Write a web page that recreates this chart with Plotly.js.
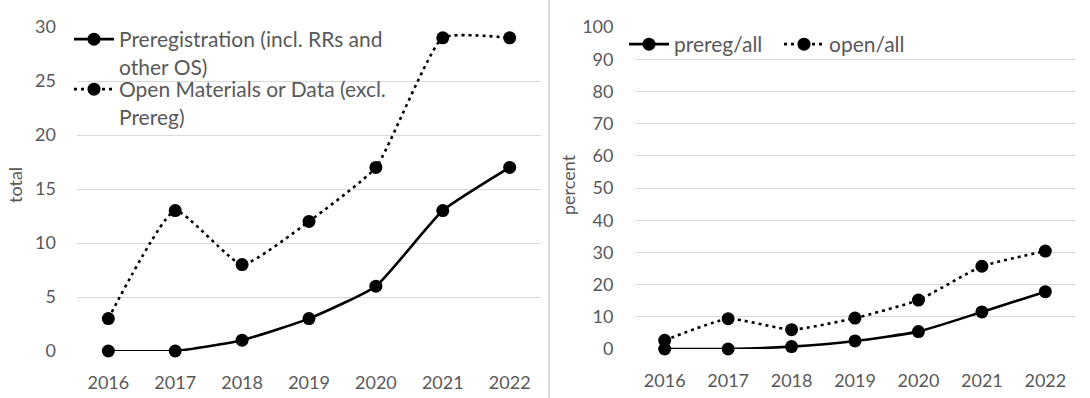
<!DOCTYPE html>
<html><head><meta charset="utf-8">
<script src="https://cdn.plot.ly/plotly-3.0.1.min.js"></script>
<style>html,body{margin:0;padding:0;background:#fff}#chart{width:1090px;height:398px}</style>
</head><body><div id="chart"></div>
<script>
const years = ['2016','2017','2018','2019','2020','2021','2022'];
const preregTotal = [0, 0, 1, 3, 6, 13, 17];
const openTotal = [3, 13, 8, 12, 17, 29, 29];
const preregPct = [0, 0, 0.75, 2.5, 5.4, 11.5, 17.8];
const openPct = [2.7, 9.4, 6.0, 9.6, 15.2, 25.7, 30.4];
const leftNames = ['Preregistration (incl. RRs and<br>other OS)', 'Open Materials or Data (excl.<br>Prereg)'];
const rightNames = ['prereg/all', 'open/all'];

const W = 1090, H = 398;
const txt = '#595959', grid = '#d9d9d9';
const FONT = 'Lato, "Open Sans", sans-serif';
const solid = {color:'#000', width:2.6, shape:'spline', smoothing:0.45};
const dotted = {color:'#000', width:2.6, shape:'spline', smoothing:0.45, dash:'3px,4px'};
const mk = {color:'#000', size:13};

const traces = [
  {x:years, y:preregTotal, name:leftNames[0], type:'scatter', mode:'lines+markers', line:solid, marker:mk, xaxis:'x', yaxis:'y', cliponaxis:false, legend:'legend'},
  {x:years, y:openTotal, name:leftNames[1], type:'scatter', mode:'lines+markers', line:dotted, marker:mk, xaxis:'x', yaxis:'y', cliponaxis:false, legend:'legend3'},
  {x:years, y:preregPct, name:rightNames[0], type:'scatter', mode:'lines+markers', line:solid, marker:mk, xaxis:'x2', yaxis:'y2', cliponaxis:false, legend:'legend2'},
  {x:years, y:openPct, name:rightNames[1], type:'scatter', mode:'lines+markers', line:dotted, marker:mk, xaxis:'x2', yaxis:'y2', cliponaxis:false, legend:'legend2'}
];

const xcommon = {type:'category', showgrid:false, zeroline:false, showline:false, ticks:'', ticklabelstandoff:19, tickfont:{family:FONT, size:18, color:txt}, fixedrange:true};
const ycommon = {showgrid:true, gridcolor:grid, gridwidth:1, zeroline:false, showline:false, ticks:'', ticklabelstandoff:20, tickfont:{family:FONT, size:18, color:txt}, fixedrange:true};
const legFont = {family:FONT, size:21, color:txt};

const layout = {
  width:W, height:H, margin:{l:0,r:0,t:0,b:0}, paper_bgcolor:'#fff', plot_bgcolor:'#fff',
  font:{family:FONT, color:txt},
  xaxis:Object.assign({}, xcommon, {domain:[77/W, 541/W], anchor:'y'}),
  yaxis:Object.assign({}, ycommon, {domain:[1-351/H, 1-27/H], range:[0,30], dtick:5, anchor:'x'}),
  xaxis2:Object.assign({}, xcommon, {domain:[634.5/W, 1075.5/W], anchor:'y2'}),
  yaxis2:Object.assign({}, ycommon, {domain:[1-349/H, 1-27/H], range:[0,100], dtick:10, anchor:'x2'}),
  showlegend:true,
  legend:{x:69/W, y:1-19/H, xanchor:'left', yanchor:'top', orientation:'v', valign:'top', bgcolor:'rgba(0,0,0,0)', font:legFont, itemwidth:40},
  legend3:{x:69/W, y:1-69/H, xanchor:'left', yanchor:'top', orientation:'v', valign:'top', bgcolor:'rgba(0,0,0,0)', font:legFont, itemwidth:40},
  legend2:{x:624/W, y:1-24/H, xanchor:'left', yanchor:'top', orientation:'h', bgcolor:'rgba(0,0,0,0)', font:legFont, itemwidth:40, entrywidth:100, entrywidthmode:'pixels'},
  annotations:[
    {text:'total', xref:'paper', yref:'paper', x:15/W, y:1-185/H, xanchor:'center', yanchor:'middle', textangle:-90, showarrow:false, font:{family:FONT, size:18, color:txt}},
    {text:'percent', xref:'paper', yref:'paper', x:568/W, y:1-185/H, xanchor:'center', yanchor:'middle', textangle:-90, showarrow:false, font:{family:FONT, size:18, color:txt}}
  ],
  shapes:[
    {type:'line', xref:'paper', yref:'paper', x0:549/W, x1:549/W, y0:0, y1:1, line:{color:grid, width:2}}
  ]
};

Plotly.newPlot('chart', traces, layout, {staticPlot:true, displayModeBar:false});
</script></body></html>
